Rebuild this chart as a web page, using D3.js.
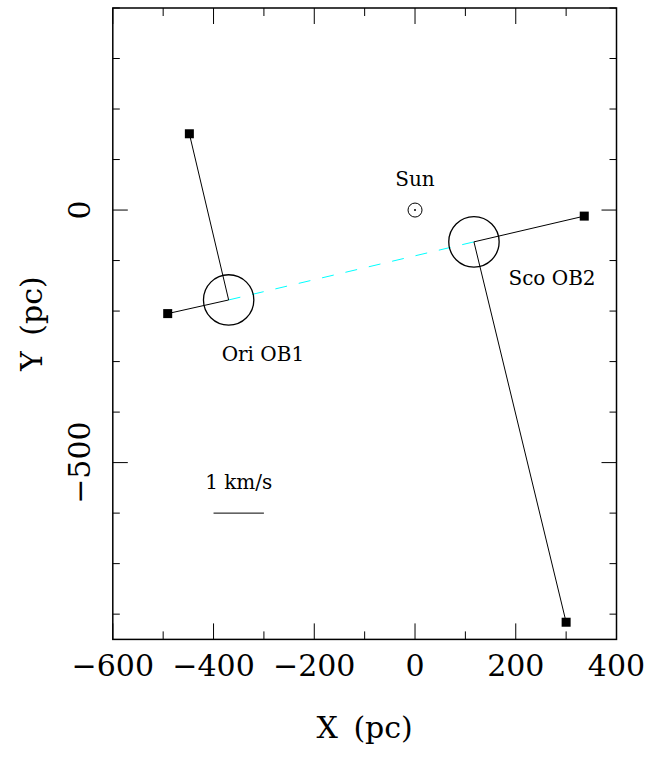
<!DOCTYPE html>
<html>
<head>
<meta charset="utf-8">
<script src="https://cdn.jsdelivr.net/npm/d3@7"></script>
<style>
  body { margin: 0; background: #fff; }
  text { font-family: "DejaVu Serif", serif; fill: #000; }
</style>
</head>
<body>
<svg id="chart" width="649" height="759"></svg>
<script>
// cluster centres (pc) and radius
const clusterNames = ["Ori OB1", "Sco OB2"];
const clusterX = [-370, 117];
const clusterY = [-178, -63];
const clusterR = 50;

// velocity vector ends (pc) for each cluster
const vecEndX = [[-448, -491], [336, 300]];
const vecEndY = [[151, -205], [-12, -816]];

// label anchors (pc)
const labelText = ["Ori OB1", "Sco OB2", "Sun"];
const labelX = [-302, 272, 0];
const labelY = [-298, -149, 48];

// scale bar: 1 km/s
const barX = [-400, -300];
const barY = -600;

const xTicks = [-600, -400, -200, 0, 200, 400];
const yTicks = [0, -500];

const svg = d3.select("#chart");

const x = d3.scaleLinear().domain([-600, 400]).range([112.8, 616.5]);
const y = d3.scaleLinear().domain([-850, 400]).range([639.4, 8]);

// axes: ticks on all four sides, pointing inward
function fmt(d) { return d < 0 ? "\u2212" + Math.abs(d) : "" + d; }

const xMinor = d3.range(-600, 401, 100);
const yMinor = d3.range(-800, 401, 100);

const g = svg.append("g");

xMinor.forEach(function(d){
  let len = (d % 200 === 0) ? 16 : 8;
  g.append("line").attr("x1", x(d)).attr("x2", x(d))
    .attr("y1", y(-850)).attr("y2", y(-850) - len)
    .attr("stroke", "#000").attr("stroke-width", 1);
  g.append("line").attr("x1", x(d)).attr("x2", x(d))
    .attr("y1", y(400)).attr("y2", y(400) + len)
    .attr("stroke", "#000").attr("stroke-width", 1);
});
yMinor.forEach(function(d){
  let len = (d % 500 === 0) ? 15 : 7;
  g.append("line").attr("y1", y(d)).attr("y2", y(d))
    .attr("x1", x(-600)).attr("x2", x(-600) + len)
    .attr("stroke", "#000").attr("stroke-width", 1);
  g.append("line").attr("y1", y(d)).attr("y2", y(d))
    .attr("x1", x(400)).attr("x2", x(400) - len)
    .attr("stroke", "#000").attr("stroke-width", 1);
});

svg.append("rect")
  .attr("x", x(-600)).attr("y", y(400))
  .attr("width", x(400) - x(-600)).attr("height", y(-850) - y(400))
  .attr("fill", "none").attr("stroke", "#000").attr("stroke-width", 1.5);

svg.selectAll(".xtick")
  .data(xTicks).enter().append("text")
  .attr("class", "xtick")
  .attr("x", d => x(d)).attr("y", 676)
  .attr("text-anchor", "middle")
  .style("font-size", "30px")
  .text(fmt);

svg.selectAll(".ytick")
  .data(yTicks).enter().append("text")
  .attr("class", "ytick")
  .attr("transform", d => "translate(90," + y(d) + ") rotate(-90)")
  .attr("text-anchor", "middle")
  .style("font-size", "30px")
  .text(fmt);

svg.append("text")
  .attr("x", (x(-600) + x(400)) / 2).attr("y", 738)
  .attr("text-anchor", "middle")
  .style("font-size", "30px")
  .style("word-spacing", "6px")
  .text("X (pc)");

svg.append("text")
  .attr("transform", "translate(42," + ((y(400) + y(-850)) / 2) + ") rotate(-90)")
  .attr("text-anchor", "middle")
  .style("font-size", "30px")
  .style("word-spacing", "6px")
  .text("Y (pc)");

// dashed line joining the two clusters
svg.append("line")
  .attr("x1", x(clusterX[0])).attr("y1", y(clusterY[0]))
  .attr("x2", x(clusterX[1])).attr("y2", y(clusterY[1]))
  .attr("stroke", "#00ffff").attr("stroke-width", 1)
  .attr("stroke-dasharray", "12,12");

// velocity vectors
clusterNames.forEach(function(name, i){
  vecEndX[i].forEach(function(ex, j){
    svg.append("line")
      .attr("x1", x(clusterX[i])).attr("y1", y(clusterY[i]))
      .attr("x2", x(ex)).attr("y2", y(vecEndY[i][j]))
      .attr("stroke", "#000").attr("stroke-width", 1);
    svg.append("rect")
      .attr("x", x(ex) - 4.5).attr("y", y(vecEndY[i][j]) - 4.5)
      .attr("width", 9).attr("height", 9)
      .attr("fill", "#000");
  });
});

// cluster circles
const rpx = x(clusterR) - x(0);
svg.selectAll(".cluster")
  .data(clusterNames).enter().append("circle")
  .attr("class", "cluster")
  .attr("cx", (d, i) => x(clusterX[i]))
  .attr("cy", (d, i) => y(clusterY[i]))
  .attr("r", rpx)
  .attr("fill", "none").attr("stroke", "#000").attr("stroke-width", 1.3);

// sun symbol
svg.append("circle").attr("cx", x(0)).attr("cy", y(0)).attr("r", 7)
  .attr("fill", "none").attr("stroke", "#000").attr("stroke-width", 1);
svg.append("circle").attr("cx", x(0)).attr("cy", y(0)).attr("r", 1)
  .attr("fill", "#000");

// labels
svg.selectAll(".lab")
  .data(labelText).enter().append("text")
  .attr("class", "lab")
  .attr("x", (d, i) => x(labelX[i])).attr("y", (d, i) => y(labelY[i]))
  .attr("text-anchor", "middle")
  .style("font-size", "20px")
  .text(d => d);

// scale bar
svg.append("line")
  .attr("x1", x(barX[0])).attr("x2", x(barX[1]))
  .attr("y1", y(barY)).attr("y2", y(barY))
  .attr("stroke", "#000").attr("stroke-width", 1);
svg.append("text")
  .attr("x", (x(barX[0]) + x(barX[1])) / 2).attr("y", y(barY) - 24)
  .attr("text-anchor", "middle")
  .style("font-size", "20px")
  .text("1 km/s");
</script>
</body>
</html>
